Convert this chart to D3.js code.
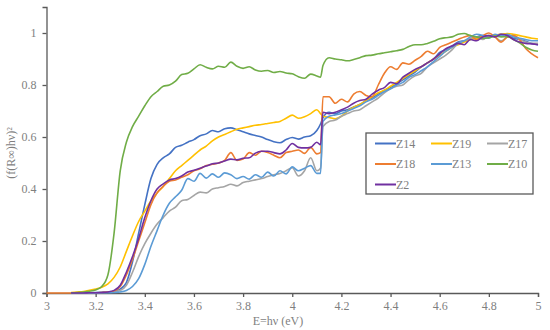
<!DOCTYPE html>
<html>
<meta charset="utf-8">
<head>
  <script src="https://d3js.org/d3.v7.min.js"></script>
</head>
<style>
  body {
    margin: 0;
    background-color: #ffffff;
  }
  text {
    font-family: 'Liberation Serif', serif;
    fill: #7f7f7f;
  }
</style>
<body>
<script>
  // photon energy (eV)
  var energy = [
    3.000, 3.025, 3.050, 3.075, 3.100, 3.125, 3.150, 3.175, 3.200, 3.225, 3.250, 3.275,
    3.300, 3.325, 3.350, 3.375, 3.400, 3.425, 3.450, 3.475, 3.500, 3.525, 3.550, 3.575,
    3.600, 3.625, 3.650, 3.675, 3.700, 3.725, 3.750, 3.775, 3.800, 3.825, 3.850, 3.875,
    3.900, 3.925, 3.950, 3.975, 4.000, 4.025, 4.050, 4.075, 4.100,
    4.115, 4.125,
    4.150, 4.175, 4.200, 4.225, 4.250, 4.275, 4.300, 4.325, 4.350, 4.375, 4.400,
    4.425, 4.450, 4.475, 4.500, 4.525, 4.550, 4.575, 4.600, 4.625, 4.650, 4.675, 4.700,
    4.725, 4.750, 4.775, 4.800, 4.825, 4.850, 4.875, 4.900, 4.925, 4.950, 4.975, 5.000
  ];

  var z14 = [
    null, null, null, null, 0, 0, 0.001, 0.001, 0.002, 0.003, 0.004, 0.007,
    0.015, 0.04, 0.12, 0.23, 0.34, 0.44, 0.495, 0.52, 0.535, 0.56, 0.568, 0.58,
    0.59, 0.605, 0.612, 0.625, 0.62, 0.632, 0.635, 0.628, 0.62, 0.612, 0.606, 0.6,
    0.59, 0.582, 0.578, 0.59, 0.598, 0.592, 0.6, 0.605, 0.625,
    0.65, 0.675,
    0.695, 0.69, 0.7, 0.705, 0.715, 0.725, 0.74, 0.75, 0.765, 0.78, 0.79,
    0.805, 0.82, 0.835, 0.85, 0.87, 0.885, 0.9, 0.925, 0.935, 0.95, 0.965, 0.97,
    0.975, 0.985, 0.99, 0.985, 0.99, 0.995, 0.99, 0.98, 0.975, 0.968, 0.96, 0.955
  ];

  var z19 = [
    null, null, null, null, 0.002, 0.004, 0.006, 0.01, 0.015, 0.022, 0.035, 0.06,
    0.1, 0.16, 0.22, 0.275, 0.315, 0.355, 0.385, 0.41, 0.44, 0.47, 0.49, 0.51,
    0.53, 0.55, 0.565, 0.585, 0.6, 0.61, 0.62, 0.63, 0.635, 0.64, 0.645, 0.648,
    0.652, 0.656, 0.66, 0.672, 0.684, 0.672, 0.678, 0.69, 0.705,
    0.69, 0.68,
    0.675, 0.67, 0.68, 0.7, 0.715, 0.725, 0.74, 0.755, 0.77, 0.78, 0.795,
    0.81, 0.825, 0.84, 0.855, 0.87, 0.885, 0.9, 0.915, 0.93, 0.945, 0.955, 0.965,
    0.975, 0.98, 0.985, 0.99, 0.992, 0.995, 0.998, 0.995, 0.99, 0.985, 0.98, 0.977
  ];

  var z17 = [
    null, null, null, null, 0, 0, 0, 0.001, 0.001, 0.002, 0.003, 0.005,
    0.01, 0.03, 0.08, 0.14, 0.19, 0.23, 0.265, 0.29, 0.315, 0.33, 0.355, 0.36,
    0.375, 0.388, 0.385, 0.4, 0.405, 0.41, 0.418, 0.412, 0.425, 0.43, 0.435, 0.44,
    0.448, 0.455, 0.46, 0.47, 0.482, 0.45, 0.47, 0.52, 0.47,
    0.48, 0.64,
    0.66, 0.665, 0.68, 0.69, 0.7, 0.705, 0.72, 0.735, 0.75, 0.77, 0.785,
    0.795, 0.8, 0.82, 0.835, 0.845, 0.87, 0.885, 0.9, 0.915, 0.935, 0.96, 0.97,
    0.98, 0.985, 0.975, 0.99, 0.985, 0.97, 0.985, 0.99, 0.975, 0.965, 0.96, 0.96
  ];

  var z18 = [
    0, 0, 0, 0, 0, 0, 0, 0.001, 0.001, 0.002, 0.004, 0.008,
    0.025, 0.07, 0.13, 0.2, 0.27, 0.34, 0.385, 0.41, 0.43, 0.435, 0.445, 0.455,
    0.47, 0.478, 0.49, 0.495, 0.5, 0.51, 0.54, 0.51, 0.515, 0.54, 0.53, 0.545,
    0.54, 0.53, 0.52, 0.54, 0.545, 0.55, 0.537, 0.56, 0.535,
    0.54, 0.755,
    0.755, 0.73, 0.745, 0.735, 0.765, 0.775, 0.76, 0.755, 0.8, 0.845, 0.87,
    0.86, 0.885, 0.88, 0.895, 0.91, 0.93, 0.92, 0.945, 0.955, 0.965, 0.975, 0.985,
    0.99, 0.975, 0.99, 1.0, 0.985, 0.965, 0.985, 0.99, 0.975, 0.94, 0.92, 0.905
  ];

  var z13 = [
    null, null, null, null, 0, 0, 0, 0, 0, 0.001, 0.001, 0.002,
    0.004, 0.01, 0.025, 0.055, 0.11, 0.18, 0.24, 0.3, 0.345, 0.37, 0.395, 0.44,
    0.43, 0.46, 0.442, 0.458, 0.445, 0.462, 0.455, 0.44, 0.448, 0.438, 0.455, 0.445,
    0.465, 0.45, 0.47, 0.458, 0.485, 0.47, 0.48, 0.49, 0.46,
    0.46, 0.66,
    0.68, 0.685, 0.69, 0.7, 0.71, 0.72, 0.735, 0.745, 0.76, 0.775, 0.785,
    0.8, 0.81, 0.83, 0.84, 0.855, 0.87, 0.89, 0.91, 0.93, 0.945, 0.96, 0.97,
    0.985, 0.995, 0.99, 0.98, 0.995, 0.99, 0.995, 0.985, 0.98, 0.975, 0.97, 0.97
  ];

  var z10 = [
    null, null, null, null, 0.001, 0.002, 0.004, 0.007, 0.012, 0.025, 0.07, 0.23,
    0.47, 0.58, 0.64, 0.68, 0.72, 0.755, 0.775, 0.795, 0.8, 0.815, 0.84, 0.845,
    0.862, 0.878, 0.868, 0.862, 0.872, 0.868, 0.888, 0.872, 0.864, 0.87, 0.858, 0.853,
    0.856, 0.848, 0.852, 0.846, 0.843, 0.832, 0.826, 0.842, 0.835,
    0.83, 0.875,
    0.905, 0.9, 0.897, 0.893, 0.898, 0.905, 0.913, 0.915, 0.92, 0.924, 0.928,
    0.932, 0.937, 0.948, 0.955, 0.955, 0.96, 0.968, 0.978, 0.982, 0.985, 0.995, 0.998,
    0.99, 0.985, 0.98, 0.982, 0.988, 0.985, 0.986, 0.975, 0.962, 0.945, 0.935, 0.93
  ];

  var z2 = [
    null, null, null, null, 0, 0, 0, 0.001, 0.001, 0.002, 0.004, 0.01,
    0.03, 0.08, 0.14, 0.21, 0.29, 0.355, 0.4, 0.42, 0.435, 0.44, 0.45, 0.465,
    0.472, 0.48, 0.488, 0.497, 0.5, 0.508, 0.515, 0.512, 0.518, 0.52, 0.538, 0.545,
    0.545, 0.54, 0.535, 0.55, 0.575, 0.56, 0.558, 0.56, 0.58,
    0.57, 0.695,
    0.69, 0.695, 0.705, 0.715, 0.73, 0.74, 0.745, 0.765, 0.78, 0.79, 0.81,
    0.805, 0.83, 0.845, 0.86, 0.87, 0.885, 0.9, 0.92, 0.94, 0.95, 0.96, 0.955,
    0.975, 0.97, 0.985, 0.99, 0.985, 0.995, 0.99, 0.975, 0.965, 0.96, 0.958, 0.955
  ];

  var seriesNames = ["Z14", "Z19", "Z17", "Z18", "Z13", "Z10", "Z2"];
  var seriesValues = [z14, z19, z17, z18, z13, z10, z2];
  var seriesColors = ["#4472C4", "#FFC000", "#A5A5A5", "#ED7D31", "#5B9BD5", "#70AD47", "#7030A0"];

  var xTicks = [3, 3.2, 3.4, 3.6, 3.8, 4, 4.2, 4.4, 4.6, 4.8, 5];
  var yTicks = [0, 0.2, 0.4, 0.6, 0.8, 1];

  var w = 550, h = 330;

  var svg = d3.select("body").append("svg")
    .attr("width", w)
    .attr("height", h);

  var x = d3.scaleLinear().domain([3, 5]).range([46.5, 538]);
  var y = d3.scaleLinear().domain([0, 1.1]).range([293, 7]);

  var fmt = function(d) { return String(Math.round(d * 10) / 10); };

  // y axis
  var gy = svg.append("g")
    .attr("transform", "translate(" + x(3) + ",0)")
    .call(d3.axisLeft(y).tickValues(yTicks).tickSize(4).tickPadding(6).tickFormat(fmt));
  gy.select(".domain").attr("stroke", "#595959").attr("stroke-width", 1.3);
  gy.selectAll(".tick line").attr("stroke", "#595959").attr("stroke-width", 1.3);

  // x axis
  var gx = svg.append("g")
    .attr("transform", "translate(0," + y(0) + ")")
    .call(d3.axisBottom(x).tickValues(xTicks).tickSize(4).tickPadding(4).tickFormat(fmt));
  gx.select(".domain").attr("stroke", "#595959").attr("stroke-width", 1.3);
  gx.selectAll(".tick line").attr("stroke", "#595959").attr("stroke-width", 1.3);

  svg.selectAll(".tick text")
    .style("font-family", "'Liberation Serif', serif")
    .style("font-size", "12px")
    .attr("fill", "#7f7f7f");

  // lines
  var line = d3.line()
    .defined(function(d) { return d[1] !== null; })
    .curve(d3.curveMonotoneX)
    .x(function(d) { return x(d[0]); })
    .y(function(d) { return y(d[1]); });

  seriesValues.forEach(function(vals, i) {
    var pts = energy.map(function(e, j) { return [e, vals[j]]; });
    svg.append("path")
      .datum(pts)
      .attr("fill", "none")
      .attr("stroke", seriesColors[i])
      .attr("stroke-width", 1.6)
      .attr("stroke-linejoin", "round")
      .attr("d", line);
  });

  // axis titles
  svg.append("text")
    .attr("x", 278)
    .attr("y", 325)
    .attr("text-anchor", "middle")
    .style("font-size", "12px")
    .text("E=hν (eV)");

  svg.append("text")
    .attr("transform", "translate(15,153) rotate(-90)")
    .attr("text-anchor", "middle")
    .style("font-size", "12px")
    .text("(f(R∞)hν)²");

  // legend
  var legend = svg.append("g").attr("transform", "translate(366,133)");
  legend.append("rect")
    .attr("width", 167)
    .attr("height", 61)
    .attr("fill", "#ffffff")
    .attr("stroke", "#595959")
    .attr("stroke-width", 1.3);

  var items = legend.selectAll("g.item")
    .data(seriesNames)
    .enter().append("g")
    .attr("class", "item")
    .attr("transform", function(d, i) {
      return "translate(" + (9 + (i % 3) * 56) + "," + (10.5 + Math.floor(i / 3) * 20.5) + ")";
    });

  items.append("line")
    .attr("x1", 0).attr("x2", 21)
    .attr("y1", 0).attr("y2", 0)
    .attr("stroke", function(d, i) { return seriesColors[i]; })
    .attr("stroke-width", 2);

  items.append("text")
    .attr("x", 21)
    .attr("y", 4)
    .style("font-size", "12px")
    .text(function(d) { return d; });
</script>
</body>
</html>
